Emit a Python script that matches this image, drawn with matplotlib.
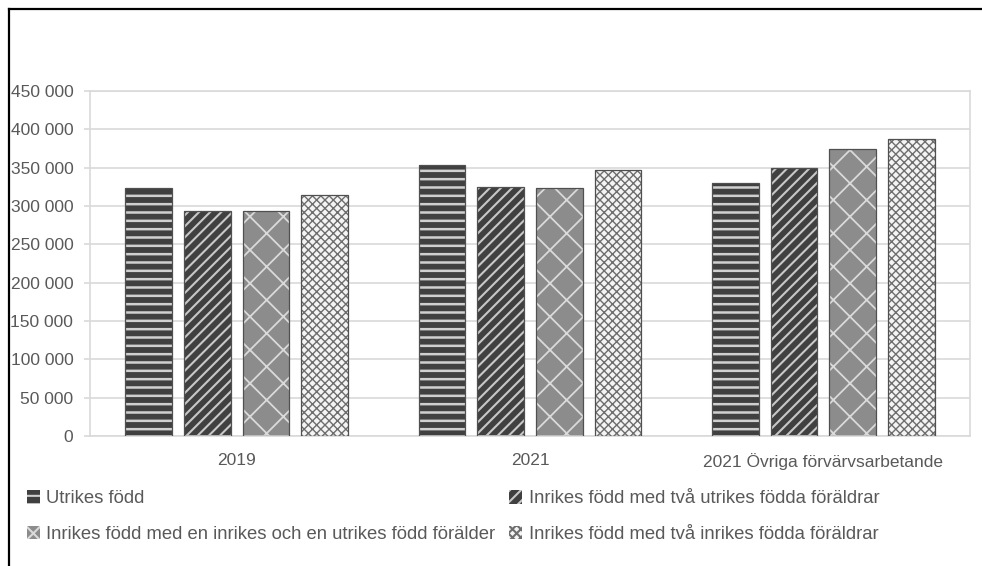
import matplotlib
matplotlib.use("Agg")
import matplotlib.pyplot as plt
import numpy as np
from matplotlib.patches import Patch
from matplotlib.lines import Line2D

categories = ["2019", "2021", "2021 Övriga förvärvsarbetande"]
series_names = [
    "Utrikes född",
    "Inrikes född med två utrikes födda föräldrar",
    "Inrikes född med en inrikes och en utrikes född förälder",
    "Inrikes född med två inrikes födda föräldrar",
]
utrikes = [324000, 353000, 330000]
inrikes_tva_utrikes = [294000, 325000, 349000]
inrikes_en_var = [293000, 324000, 375000]
inrikes_tva_inrikes = [314000, 347000, 388000]
series_values = [utrikes, inrikes_tva_utrikes, inrikes_en_var, inrikes_tva_inrikes]

yticks = [0, 50000, 100000, 150000, 200000, 250000, 300000, 350000, 400000, 450000]
ytick_labels = ["0", "50 000", "100 000", "150 000", "200 000", "250 000",
                "300 000", "350 000", "400 000", "450 000"]

face_colors = ["#404040", "#404040", "#8c8c8c", "#f4f4f4"]
hatch_colors = ["#d0d0d0", "#c8c8c8", "#dadada", "#6e6e6e"]
hatches = ["--", "///", "x", "xxxx"]
hatch_lws = [1.8, 1.5, 1.3, 1.0]

plt.rcParams["font.family"] = ["Liberation Sans", "DejaVu Sans"]
plt.rcParams["hatch.linewidth"] = 1.5

W, H = 982, 566
fig = plt.figure(figsize=(W / 100, H / 100), dpi=100)
ax = fig.add_axes([90 / W, 1 - 436 / H, 880 / W, 345 / H])

text_color = "#595959"
grid_color = "#d9d9d9"
fs = 12.5
lfs = 13.3

x = np.arange(len(categories))
bw = 0.16
step = 0.2
for i, vals in enumerate(series_values):
    pos = x + (i - 1.5) * step
    ax.bar(pos, vals, width=bw, color=face_colors[i], edgecolor="none", linewidth=0, zorder=2)
    hb = ax.bar(pos, vals, width=bw, color="none", edgecolor=hatch_colors[i], hatch=hatches[i],
                linewidth=0, zorder=3)
    for p in hb:
        if hasattr(p, "set_hatch_linewidth"):
            p.set_hatch_linewidth(hatch_lws[i])
    ax.bar(pos, vals, width=bw, fill=False, edgecolor="#505050", linewidth=0.9, zorder=4)

ax.set_xlim(-0.5, len(categories) - 0.5)
ax.set_ylim(0, 450000)
ax.set_yticks(yticks)
ax.set_yticklabels(ytick_labels)
ax.set_xticks(x)
ax.set_xticklabels(categories)
ax.yaxis.grid(True, color=grid_color, linewidth=1.2, zorder=0)
ax.set_axisbelow(True)
for s in ax.spines.values():
    s.set_color(grid_color)
    s.set_linewidth(1.2)
ax.tick_params(axis="y", colors=grid_color, length=4, width=1.2, pad=8,
               labelcolor=text_color, labelsize=fs)
ax.tick_params(axis="x", length=0, pad=12, labelcolor=text_color, labelsize=fs)

handles = []
for i in range(4):
    h = Patch(facecolor=face_colors[i], edgecolor=hatch_colors[i], hatch=hatches[i], linewidth=0)
    handles.append(h)
order = [0, 2, 1, 3]
leg = fig.legend([handles[i] for i in order], [series_names[i] for i in order],
                 ncol=2, loc="upper left", bbox_to_anchor=(27 / W, 1 - 490 / H),
                 frameon=False, fontsize=lfs, labelcolor=text_color,
                 handlelength=0.7, handleheight=0.75, handletextpad=0.35,
                 columnspacing=0.75, labelspacing=1.0, borderpad=0, borderaxespad=0)

# outer frame (top and left visible)
fig.add_artist(Line2D([9 / W, 9 / W], [0, 1 - 9 / H], color="black", linewidth=1.6,
                      transform=fig.transFigure))
fig.add_artist(Line2D([9 / W, 1], [1 - 9 / H, 1 - 9 / H], color="black", linewidth=1.6,
                      transform=fig.transFigure))

fig.savefig("out.png", dpi=100, facecolor="white")
